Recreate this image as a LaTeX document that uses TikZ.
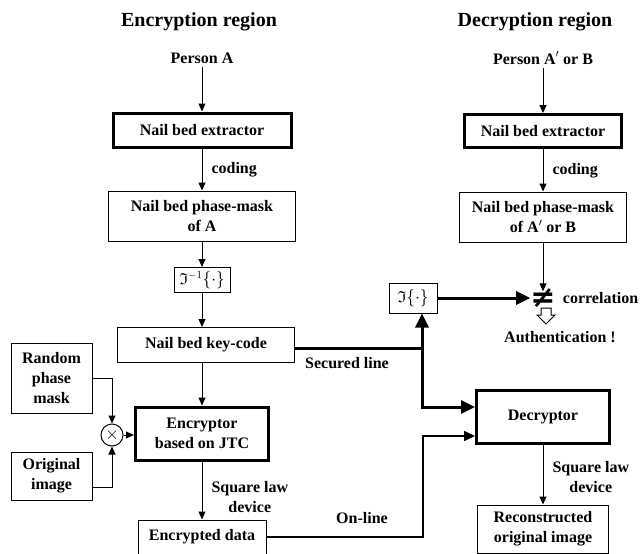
\documentclass[tikz,border=0pt]{standalone}
\usepackage{amsmath, amssymb, amsfonts}
\usepackage{fontspec}
\setmainfont{Liberation Serif}
\newfontfamily\symbfont{DejaVu Sans}
\usetikzlibrary{arrows.meta, positioning}

\begin{document}
\begin{tikzpicture}[x=1pt, y=-1pt,
	font=\fontsize{16}{20}\selectfont\bfseries,
	box/.style={draw, line width=1pt, align=center, inner sep=0pt},
	heavy/.style={box, line width=3pt},
	title/.style={font=\fontsize{20}{24}\selectfont\bfseries},
	lbl/.style={align=center, inner sep=1pt},
	tip/.style={-{Triangle[length=8pt, width=7pt]}, line width=1pt},
	bigtip/.style={-{Triangle[length=14pt, width=13pt]}, line width=3pt},
]
\useasboundingbox (0,0) rectangle (643,554);

	\node (titleA) [title] at (199,22) {Encryption region};
	\node (titleB) [title] at (535,22) {Decryption region};

% encryption side
	\node (personA) at (202,58) {Person A};
	\node (extrA) [heavy, minimum width=178pt, minimum height=34pt] at (202,130) {Nail bed extractor};
	\node (maskA) [box, minimum width=187pt, minimum height=50pt] at (202,216) {Nail bed phase-mask\\of A};
	\node (invA) [box, minimum width=56pt, minimum height=25pt] at (202,280) {$\mathfrak{I}^{-1}\{\cdot\}$};
	\node (keyA) [box, minimum width=177pt, minimum height=35pt] at (206,345) {Nail bed key-code};
	\node (rpm) [box, minimum width=81pt, minimum height=70pt] at (51.5,378) {Random\\phase\\mask};
	\node (orig) [box, minimum width=81pt, minimum height=48pt] at (51.5,476) {Original\\image};
	\node (mult) [draw, circle, line width=1pt, minimum size=22pt, inner sep=0pt] at (112,435) {$\times$};
	\node (encr) [heavy, minimum width=133pt, minimum height=53pt] at (202,433.5) {Encryptor\\based on JTC};
	\node (encd) [box, minimum width=128pt, minimum height=34pt] at (202,537) {Encrypted data};

% decryption side
	\node (personB) at (543,58) {Person A$'$ or B};
	\node (extrB) [heavy, minimum width=157pt, minimum height=33pt] at (543,131) {Nail bed extractor};
	\node (maskB) [box, minimum width=167pt, minimum height=50pt] at (543,217) {Nail bed phase-mask\\of A$'$ or B};
	\node (invB) [box, minimum width=48pt, minimum height=30pt] at (413,298) {$\mathfrak{I}\{\cdot\}$};
	\node (neq) [inner sep=0pt, font=\fontsize{30}{30}\symbfont\bfseries] at (543,298) {≠};
	\node (corr) [right=7pt of neq, inner sep=0pt] {correlation};
	\node (auth) at (560,337) {Authentication !};
	\node (decr) [heavy, minimum width=133pt, minimum height=53pt] at (543,416.5) {Decryptor};
	\node (recon) [box, minimum width=131pt, minimum height=48pt] at (543,529) {Reconstructed\\original image};

	\node (secl) at (347,363) {Secured line};
	\node (onl) at (362,518) {On-line};
	\coordinate (sjoin) at (422,348);
	\coordinate (ocorner) at (423,537);

\path [tip]
	(personA) edge (extrA)
	(extrA) edge node [right=8pt, lbl] {coding} (maskA)
	(maskA) edge (invA)
	(invA) edge (invA |- keyA.north)
	(keyA.south -| encr) edge (encr)
	(encr) edge node [right=8pt, lbl, pos=0.62] {Square law\\device} (encd)
	(personB) edge (extrB)
	(extrB) edge node [right=8pt, lbl] {coding} (maskB)
	(maskB) edge ([yshift=-3pt]neq.north)
	(decr) edge node [right=8pt, lbl, pos=0.55] {Square law\\device} (recon)
	(mult.east) edge (mult.east -| encr.west);

	\draw [tip] (rpm.east) -| (mult.north);
	\draw [tip] ([yshift=-11pt]orig.east) -| (mult.south);

% secured line
	\draw [line width=3pt] (keyA.east |- sjoin) -- (sjoin);
	\draw [bigtip] (sjoin) -- (sjoin |- invB.south);
	\draw [bigtip] (sjoin) |- ([yshift=9.5pt]decr.west);
	\draw [bigtip] (invB) -- (neq.west);

% on-line
	\draw [-{Triangle[length=11pt, width=10pt]}, line width=1.5pt]
		(encd.east) -- (ocorner) |- ([yshift=-19.5pt]decr.west);

% outline arrow down to authentication
	\draw [line width=1pt] (541,308) -- (541,315) -- (537,315) -- (546,324)
		-- (555,315) -- (551,315) -- (551,308) -- cycle;
\end{tikzpicture}
\end{document}
